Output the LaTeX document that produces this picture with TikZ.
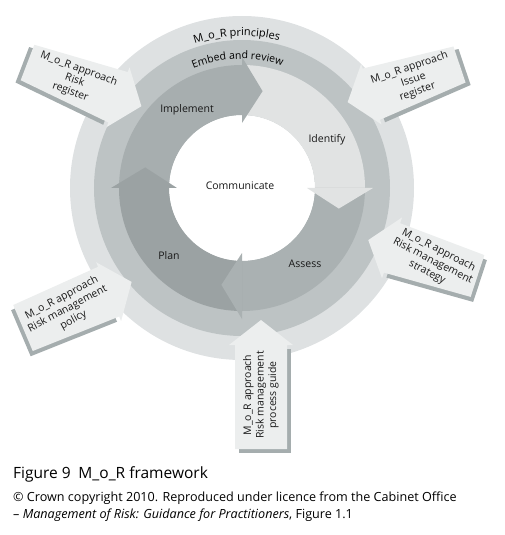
\documentclass[tikz,border=0pt]{standalone}
\usepackage{fontspec}
\setmainfont{Open Sans}
\usetikzlibrary{decorations.text}

\definecolor{principles}{HTML}{DEE1E2}
\definecolor{embed}{HTML}{BDC3C4}
\definecolor{implement}{HTML}{A7AEAF}
\definecolor{identify}{HTML}{E1E3E3}
\definecolor{assess}{HTML}{AAB1B2}
\definecolor{plan}{HTML}{9BA2A3}
\definecolor{boxfill}{HTML}{ECEEEE}
\definecolor{boxshade}{HTML}{A5ADAE}

\tikzset{
  lbl/.style={font=\fontsize{10.5}{12}\selectfont, text=black!90},
  boxtext/.style={font=\fontsize{10.5}{12.5}\selectfont, align=center, inner sep=0pt, text=black!90},
}

% name, tail, direction, shaft length, tail half height, head half height, text angle, shade side, text
\newcommand{\approachbox}[9]{%
  \begin{scope}[shift={#2}, rotate=#3]
    \fill[boxshade, shift={(-4,{#8*4})}] (0,-#5) -- (#4,-#6) -- (#4,#6) -- (0,#5) -- cycle;
    \fill[boxfill] (0,-#5) -- (#4,-#6) -- (#4,-32) -- ({#4+25},0) -- (#4,32) -- (#4,#6) -- (0,#5) -- cycle;
    \node[boxtext, rotate=#7] (#1) at ({#4/2+2},0) {#9};
  \end{scope}}

\begin{document}
\begin{tikzpicture}[x=1pt,y=1pt]
\useasboundingbox (-242,-347) rectangle (263,188);

% rings
\fill[principles] (0,0) circle (172);
\fill[embed] (0,0) circle (148);
\fill[white] (0,0) circle (73);

% process arrows
\foreach \a/\b/\c in {180/90/implement, 90/0/identify, 0/-90/assess, -90/-180/plan}
  \fill[\c] (\a:123) arc (\a:\b:123) -- (\b:73) arc (\b:\a:73) -- cycle;
\foreach \b/\c in {90/implement, 0/identify, -90/assess, -180/plan}
  \fill[\c] (\b:65) -- (\b:131) -- ({\b-12}:99) -- cycle;

% ring texts
\path[decorate, decoration={text along path, text align=center,
  text={|\fontsize{11}{12}\selectfont|M{\_}o{\_}R principles}}] (130:152) arc (130:54:152);
\path[decorate, decoration={text along path, text align=center,
  text={|\fontsize{10.5}{12}\selectfont|Embed and review}}] (128:129) arc (128:56:129);

\node[lbl] (communicate) at (-2,2) {Communicate};
\node[lbl] (implement) at (-55,78) {Implement};
\node[lbl] (identify) at (85,48) {Identify};
\node[lbl] (assess) at (63,-76) {Assess};
\node[lbl] (plan) at (-73,-68) {Plan};

% approach documents
\approachbox{register}{(-214.5,125.5)}{-21}{97}{19}{27}{-20}{-1}{M\_o\_R approach\\Risk\\register}
\approachbox{issues}{(217.5,123.5)}{198.6}{93}{19}{27}{19}{1}{M\_o\_R approach\\Issue\\register}
\approachbox{strategy}{(235.5,-88)}{161.8}{90}{22}{26}{-27}{1}{M\_o\_R approach\\Risk management\\strategy}
\approachbox{policy}{(-219,-140)}{23}{93}{25}{27}{28}{-1}{M\_o\_R approach\\Risk management\\policy}
\approachbox{guide}{(19,-261)}{90}{104}{26}{26}{90}{-1}{M\_o\_R approach\\Risk management\\process guide}

% caption
\node[anchor=base west, inner sep=0pt, font=\fontsize{15.5}{18}\selectfont] (caption) at (-229,-290)
  {Figure 9\enspace M\_o\_R framework};
\node[anchor=base west, inner sep=0pt, font=\fontsize{12.6}{14}\selectfont] (credit) at (-229,-313)
  {© Crown copyright 2010. Reproduced under licence from the Cabinet Office};
\node[anchor=base west, inner sep=0pt, font=\fontsize{12.6}{14}\selectfont] (source) at (-229,-330)
  {– \emph{Management of Risk: Guidance for Practitioners}, Figure 1.1};
\end{tikzpicture}
\end{document}
